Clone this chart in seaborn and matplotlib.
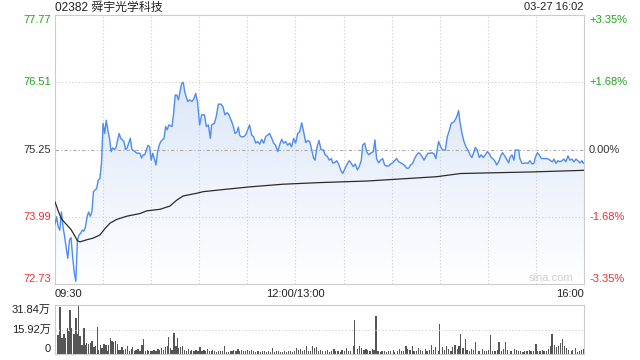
import numpy as np
import pandas as pd
import matplotlib
matplotlib.use("Agg")
import matplotlib.pyplot as plt
import seaborn as sns
from matplotlib.colors import LinearSegmentedColormap

# minutes since 09:30 (lunch break removed, 330 = 16:00)
minutes = [0, 1, 2, 3, 4, 5, 6, 7, 8, 9, 10, 11, 12, 13, 14, 15, 16, 17, 18, 19, 20, 21, 22, 23, 24, 26, 27, 28, 29,
           30, 31, 32, 33, 34, 35, 36, 37, 38, 40, 41, 43, 44, 45, 47, 48, 50, 51, 53, 54, 55, 56, 58, 59, 60, 61,
           63, 64, 65, 66, 68, 69, 70, 71, 73, 74, 75, 76, 77, 79, 80, 81,
           82.8, 84, 85.3, 86.5, 87.8, 89, 90.2, 91.5, 93.2, 94.4, 95.7, 96.9, 97.7, 99.4, 100.6, 101.9, 103.6, 104.8,
           106, 107.3, 108.5, 109.8, 111, 112.3, 113.5, 114.4, 115.2, 116, 117.7, 118.9, 120.2, 121.4, 122.7, 123.9,
           125.2, 126.4, 127.7, 128.9, 130.2, 131.4, 132.7, 133.9, 135.2, 136.4, 137.6, 138.9, 140.1, 141.4, 142.6,
           143.9, 145.1, 146.4, 147.6, 148.9, 150.1, 151.4, 152.6, 153.9, 155.1, 156.4, 157.6, 158.9, 160.1, 161.3,
           162.2, 163.4, 164.7, 165.9,
           167.4, 168.6, 169.9, 171.1, 172.4, 173.2, 174.4, 175.7, 176.9, 178.2, 179.4, 180.7, 181.9, 183.6, 184.8,
           186.1, 187.3, 188.6, 189.8, 191.1, 191.9, 193.2, 194.4, 195.7, 196.9, 198.6, 199.6, 200.6, 201.9, 203.1,
           204.4, 205.6, 206.9, 208.1, 209.4, 210.6, 211.9, 213.1, 214.4, 215.6, 216.9, 218.1, 219.4, 220.6, 221.8,
           223.1, 224.3, 225.6, 226.8, 227.7, 228.9, 230.2, 231.4, 232.7, 233.9, 235.2, 236.4, 237.6, 238.5, 239.3,
           240.6, 241.8, 243.5, 244.7, 246, 247.2, 248.9, 250.1, 251, 251.8, 252.6, 253.9, 255.1, 256.4, 257.6,
           258.9, 260.1, 261.4, 262.2, 263.4, 264.7, 265.9, 267.2, 268.4, 269.7, 270.9, 272.2, 273.4, 274.7, 275.5,
           276.8, 278, 279.2, 280.5, 281.7, 283, 283.8, 285.1, 286.3, 287.1, 289.2, 290, 291.3, 292.5, 293.8, 295,
           296.3, 297.5, 298.8, 299.6, 300.9, 302.1, 303.4, 306.7, 307.9, 309.2, 310.4, 311.3, 312.5, 313.8, 315,
           316.3, 317.5, 318.7, 320, 321.2, 322.5, 323.7, 325, 326.2, 327.5, 328.7, 329.6, 330]
price = [73.85, 73.99, 73.80, 73.74, 74.08, 73.80, 73.62, 73.40, 73.21, 73.55, 73.60, 73.24, 72.95, 72.78, 73.55,
         73.65, 73.68, 73.74, 73.72, 73.80, 73.99, 74.08, 74.00, 74.08, 74.46, 74.52, 74.68, 74.70, 75.00, 75.74,
         75.55, 75.80, 75.60, 75.46, 75.21, 75.28, 75.25, 75.28, 75.55, 75.46, 75.40, 75.25, 75.28, 75.46, 75.25,
         75.21, 75.18, 75.18, 75.09, 75.15, 75.15, 75.33, 75.30, 75.05, 75.18, 74.96, 75.21, 75.33, 75.40, 75.46,
         75.68, 75.62, 75.71, 75.68, 75.93, 76.27, 76.27, 76.18, 76.49, 76.51, 76.32,
         76.15, 76.18, 76.15, 76.19, 76.30, 76.12, 75.71, 75.90, 75.90, 75.68, 75.71, 75.46, 75.71, 75.74, 75.87,
         76.10, 76.10, 76.05, 75.90, 75.94, 75.90, 75.80, 75.71, 75.55, 75.58, 75.67, 75.52, 75.49, 75.49, 75.52,
         75.62, 75.71, 75.52, 75.49, 75.37, 75.40, 75.35, 75.44, 75.37, 75.49, 75.52, 75.55, 75.46, 75.37, 75.33,
         75.21, 75.33, 75.44, 75.37, 75.40, 75.33, 75.37, 75.30, 75.46, 75.37, 75.55, 75.58, 75.75, 75.58, 75.38,
         75.42, 75.40, 75.25, 75.09, 75.05, 75.29, 75.42, 75.25,
         75.24, 75.15, 75.12, 75.05, 75.08, 75.00, 75.00, 75.04, 74.98, 74.87, 74.80, 74.88, 74.96, 75.04, 74.99,
         74.93, 74.98, 74.87, 74.93, 75.05, 75.33, 75.37, 75.21, 75.15, 75.18, 75.21, 75.43, 75.08, 75.00, 75.05,
         75.08, 74.96, 74.94, 74.94, 74.98, 75.00, 75.04, 75.08, 75.02, 75.00, 74.98, 74.95, 74.90, 74.90, 74.96,
         74.99, 75.08, 75.15, 75.19, 75.17, 75.12, 75.05, 75.12, 75.18, 75.18, 75.19, 75.17, 75.08, 75.27, 75.40,
         75.30, 75.24, 75.24, 75.49, 75.61, 75.74, 75.77, 75.83, 75.90, 75.98, 75.77, 75.55, 75.40, 75.30, 75.24,
         75.15, 75.10, 75.21, 75.29, 75.24, 75.10, 75.15, 75.10, 75.15, 75.21, 75.17, 75.10, 75.07, 75.02, 74.96,
         75.02, 75.13, 75.19, 75.13, 75.07, 75.00, 75.10, 75.15, 75.05, 75.24, 75.24, 75.08, 74.99, 74.99, 75.00,
         74.99, 75.04, 74.98, 74.99, 75.10, 75.19, 75.15, 75.08, 75.08, 75.07, 75.04, 75.02, 75.07, 74.99, 75.04,
         75.02, 75.04, 75.07, 75.02, 75.13, 75.05, 75.07, 75.02, 75.07, 75.04, 75.00, 75.04, 74.99, 74.99]

avg_minutes = [0, 2, 4, 7, 10, 12, 14, 15.6, 20, 23.9, 28.1, 31.2, 34.3, 38.5, 44.7, 53, 57.2, 65.5, 71.7, 75.9,
               80, 88.4, 92.5, 105, 121.6, 142.4, 165.3, 195, 238, 253, 298, 330]
avg_price = [74.27, 74.10, 73.95, 73.85, 73.75, 73.65, 73.54, 73.52, 73.56, 73.59, 73.65, 73.77, 73.87, 73.94,
             74.00, 74.05, 74.10, 74.13, 74.19, 74.30, 74.38, 74.43, 74.46, 74.50, 74.55, 74.60, 74.63, 74.66,
             74.74, 74.80, 74.83, 74.86]

# volume in 万 shares
vol_minutes = [0.2, 1.9, 3.1, 4.4, 5.6, 6.4, 7.7, 8.5, 9.4, 10.2, 11.4, 12.3, 13.1, 13.9, 14.8, 15.6, 16.8, 18.1,
               18.9, 19.7, 21, 22.2, 23.1, 24.3, 25.2, 26.4, 27.2, 28.5, 29.3, 30.6, 31.8, 32.6, 33.5, 34.7, 35.6,
               36.4, 37.6, 38.9, 39.7, 40.5, 41.8, 42.6, 43.9, 45.1, 46.4, 47.6, 48.4, 49.7, 50.5, 51.8, 53, 54.3,
               55.1, 56.3, 57.6, 58.4, 59.7, 60.5, 61.7, 63, 64.2, 65.1, 66.3, 67.6, 68.8, 70.1, 70.9, 72.1, 73,
               74.2, 75.5, 76.3, 77.1, 78.4, 79.6, 80.9, 82.1, 83.4, 84.6, 85.4, 86.7, 87.9, 89.2, 90.4, 91.7, 92.9,
               93.8, 95, 96.3, 97.5, 98.3, 99.6, 100.8, 102.1, 103.3, 104.6, 105.8, 107.1, 108.3, 109.6, 110.4,
               111.6, 112.9, 114.1, 115, 116.2, 117.5, 118.7, 120, 121.2, 122.5, 123.7, 124.9, 126.2, 127, 128.3,
               129.5, 130.8, 132, 133.3, 134.5, 135.8, 137, 138.3, 139.5, 140.8, 142, 143.2, 144.5, 145.7, 147,
               148.2, 149.5, 150.7, 152, 153.2, 154.5, 155.7, 157, 158.2, 159.5, 160.7, 162, 163.2, 164.5, 165.7,
               167, 168.5, 170, 171, 172.5, 174, 175, 176.5, 178, 179, 180.5, 182, 183, 184.5, 186, 187, 188.5,
               190, 191, 192.8, 194, 195, 196.5, 198, 199, 200.2, 201.5, 203, 204, 205.5, 207, 208, 209.5, 211,
               212, 213.5, 215, 216, 217.5, 219, 220, 221.5, 223, 224, 225.5, 227, 228, 229.5, 231, 232, 233.5,
               235, 236, 237.5, 239, 240, 241.5, 243, 244, 245.5, 247, 248, 249.5, 251, 252, 253.2, 254.5, 256,
               257, 258.5, 260, 261, 262.5, 264, 265, 266.5, 268, 269, 270.5, 271.8, 273, 274.5, 276, 277, 278.5,
               280, 281, 282.5, 284, 285, 286.5, 288, 289, 290.5, 292, 293, 294.5, 296, 297, 298.5, 300, 301,
               302.5, 304, 305, 306.5, 308, 309, 310, 311.5, 313, 314, 315.5, 316.7, 318, 319, 320.5, 322, 323,
               324.5, 326, 327, 328.5, 329.6]
volume = [20.0, 12.5, 30.8, 10.3, 12.9, 10.3, 17.2, 15.1, 28.6, 16.8, 12.9, 12.9, 23.3, 12.9, 31.8, 11.4, 6.0,
          16.8, 6.0, 7.1, 6.5, 7.1, 8.2, 4.3, 5.0, 17.4, 2.8, 5.6, 3.9, 6.5, 6.0, 2.2, 6.0, 10.3, 8.6, 7.8, 8.2,
          6.5, 2.8, 2.8, 4.3, 2.8, 3.4, 5.0, 2.2, 3.4, 4.3, 1.7, 2.8, 3.4, 2.2, 5.6, 9.9, 2.2, 2.8, 1.7, 2.2, 1.7,
          2.8, 2.2, 3.4, 2.8, 3.9, 2.8, 4.3, 5.0, 10.8, 3.9, 2.8, 13.6, 5.0, 10.3, 3.9, 4.3, 5.0, 2.8, 2.2, 3.4,
          2.2, 2.8, 2.2, 2.8, 1.7, 4.3, 1.7, 2.8, 2.2, 3.4, 2.2, 1.7, 2.8, 1.7, 1.3, 2.2, 1.7, 2.2, 5.0, 1.3,
          1.3, 1.7, 2.2, 2.8, 2.2, 3.4, 2.2, 2.8, 1.7, 2.2, 2.8, 2.2, 2.8, 1.7, 1.3, 2.2, 1.7, 1.3, 2.2, 1.7,
          1.3, 2.2, 1.3, 3.9, 1.3, 2.2, 1.7, 1.3, 1.3, 1.7, 1.3, 2.2, 1.7, 1.3, 1.7, 3.9, 2.8, 3.4, 1.7, 2.8,
          5.0, 2.2, 1.7, 5.0, 3.9, 4.3, 1.7, 2.8,
          2.2, 1.7, 2.8, 1.3, 2.2, 3.4, 1.7, 2.2, 1.3, 2.8, 2.2, 3.9, 1.7, 2.2, 5.0, 21.8, 3.4, 4.9, 3.9, 2.8,
          3.4, 2.8, 2.2, 3.4, 2.8, 24.7, 2.2, 1.3, 1.7, 2.2, 1.3, 2.2, 1.7, 2.8, 1.3, 2.2, 3.4, 2.2, 1.7, 5.4,
          3.4, 2.8, 5.4, 2.2, 1.7, 3.9, 2.8, 2.2, 3.4, 1.7, 2.8, 6.0, 2.8, 4.3, 2.2, 19.7, 4.3, 2.8, 5.0, 3.4,
          2.2, 4.3, 6.0, 3.4, 5.0, 12.8, 3.9, 9.6, 2.8, 2.2, 3.4, 2.8, 8.0, 2.2, 1.7, 3.4, 2.2, 1.7, 2.8, 12.2,
          2.2, 1.7, 2.8, 7.5, 2.2, 3.4, 8.0, 2.8, 1.7, 2.2, 3.4, 2.8, 1.7, 2.2, 1.3, 2.2, 1.7, 2.8, 2.2, 1.7,
          6.5, 2.2, 1.7, 2.8, 2.2, 1.7, 3.4, 5.0, 12.8, 6.0, 4.3, 5.5, 7.0, 10.0, 5.5, 3.9, 2.8, 1.7, 2.8, 3.9,
          1.3, 2.2, 2.8, 3.4]

prev_close = 75.25
price_ticks = [77.77, 76.51, 75.25, 73.99, 72.73]
pct_labels = ["+3.35%", "+1.68%", "0.00%", "-1.68%", "-3.35%"]
vol_ticks = [31.84, 15.92, 0]
vol_labels = ["31.84万", "15.92万", "0"]
time_labels = ["09:30", "12:00/13:00", "16:00"]

GREEN = "#1ea51e"
RED = "#f03030"
BLUE = "#4d8cf0"
FS = 8

sns.set_style("white")
plt.rcParams["font.family"] = ["Liberation Sans", "Noto Sans CJK SC", "DejaVu Sans"]

fig = plt.figure(figsize=(6.4, 3.6), dpi=100)
ax = fig.add_axes([55 / 640, 1 - 284 / 360, 529 / 640, 269 / 360])
axv = fig.add_axes([55 / 640, 1 - 354 / 360, 529 / 640, 49 / 360])

df = pd.DataFrame({"t": minutes, "p": price})
dfa = pd.DataFrame({"t": avg_minutes, "p": avg_price})

# gradient area under price line
lo, hi = price_ticks[-1], price_ticks[0]
poly = ax.fill_between(df.t, df.p, lo, color="none", lw=0)
cmap = LinearSegmentedColormap.from_list("g", ["#ffffff", "#d0dff7"])
grad = np.linspace(0, 1, 256).reshape(-1, 1)
im = ax.imshow(grad, cmap=cmap, extent=[0, 330, lo, hi], origin="lower", aspect="auto", zorder=1)
im.set_clip_path(poly.get_paths()[0], transform=ax.transData)

sns.lineplot(data=df, x="t", y="p", ax=ax, color=BLUE, lw=1.0, zorder=3)
sns.lineplot(data=dfa, x="t", y="p", ax=ax, color="#2a2a2a", lw=0.9, zorder=4)

ax.set_xlim(0, 330)
ax.set_ylim(lo, hi)
for v in [76.51, 73.99]:
    ax.axhline(v, color="#cccccc", ls=(0, (1, 2)), lw=0.8, zorder=2)
ax.axhline(prev_close, color="#aaaaaa", ls=(0, (3, 2, 1, 2)), lw=0.8, zorder=2)
for t in range(30, 330, 30):
    ax.axvline(t, color="#cccccc", ls=(0, (1, 2)), lw=0.8, zorder=2)

ax.set_xticks([])
ax.set_yticks([])
ax.set_xlabel("")
ax.set_ylabel("")
for s in ax.spines.values():
    s.set_color("#cccccc")
    s.set_linewidth(0.8)

for i, (v, lab) in enumerate(zip(price_ticks, pct_labels)):
    c = GREEN if v > prev_close else (RED if v < prev_close else "#333333")
    va = "top" if i == 0 else ("bottom" if i == len(price_ticks) - 1 else "center")
    ax.text(-4 / 529, v, f"{v:.2f}", transform=ax.get_yaxis_transform(), ha="right", va=va,
            color=c, fontsize=FS)
    ax.text(1 + 5 / 529, v, lab, transform=ax.get_yaxis_transform(), ha="left", va=va,
            color=c, fontsize=FS)

ax.text(0, -10 / 269, time_labels[0], transform=ax.transAxes, ha="left", va="center", fontsize=FS, color="#222222")
ax.text(150 / 330, -10 / 269, time_labels[1], transform=ax.transAxes, ha="center", va="center", fontsize=FS, color="#222222")
ax.text(1, -10 / 269, time_labels[2], transform=ax.transAxes, ha="right", va="center", fontsize=FS, color="#222222")
ax.text(1 - 11 / 529, 1 / 269, "sina.com", transform=ax.transAxes, ha="right", va="bottom", fontsize=FS, color="#cfcfcf")

fig.text(55 / 640, 1 - 7.5 / 360, "02382 舜宇光学科技", ha="left", va="center", fontsize=8.6, color="#222222")
fig.text(583 / 640, 1 - 7.5 / 360, "03-27 16:02", ha="right", va="center", fontsize=FS, color="#222222")

# volume panel
axv.bar(vol_minutes, volume, width=0.75, color="#555555", lw=0)
axv.set_xlim(0, 330)
axv.set_ylim(0, vol_ticks[0])
axv.axhline(vol_ticks[1], color="#cccccc", ls=(0, (1, 2)), lw=0.8)
axv.set_xticks([])
axv.set_yticks([])
for s in axv.spines.values():
    s.set_color("#cccccc")
    s.set_linewidth(0.8)
for i, (v, lab) in enumerate(zip(vol_ticks, vol_labels)):
    va = "top" if i == 0 else ("bottom" if i == len(vol_ticks) - 1 else "center")
    axv.text(-4 / 529, v, lab, transform=axv.get_yaxis_transform(), ha="right", va=va,
             fontsize=FS, color="#222222")

fig.savefig("out.png", dpi=100)
